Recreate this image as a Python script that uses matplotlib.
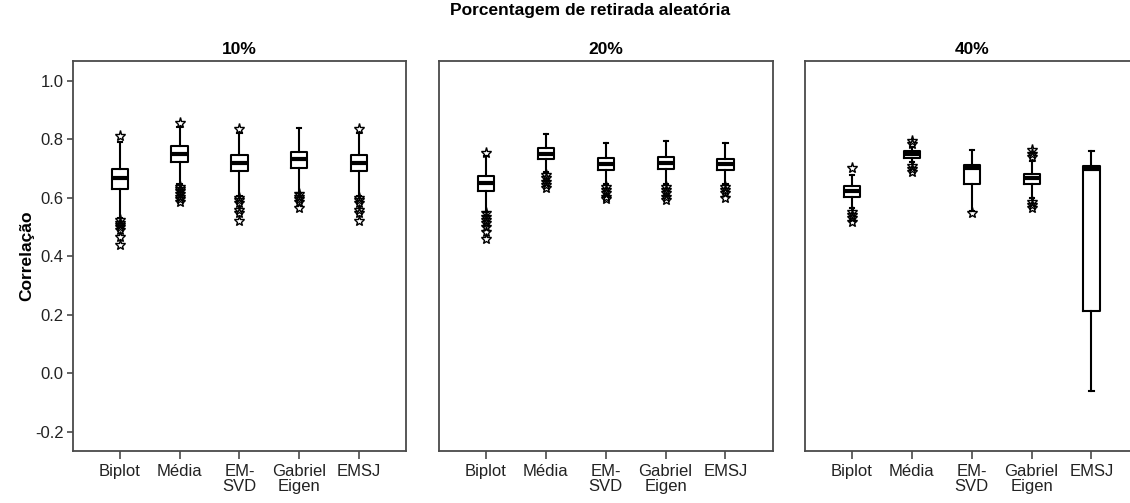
import matplotlib
matplotlib.use("Agg")
import matplotlib.pyplot as plt

plt.rcParams['font.family'] = ['Liberation Sans', 'DejaVu Sans']

categories = ["Biplot", "Média", "EM-\nSVD", "Gabriel\nEigen", "EMSJ"]
panel_titles = ["10%", "20%", "40%"]
suptitle = "Porcentagem de retirada aleatória"
ylabel = "Correlação"
yticks = [1.0, 0.8, 0.6, 0.4, 0.2, 0.0, -0.2]

# Panel 10%
med_10 = [0.668, 0.750, 0.720, 0.733, 0.720]
q1_10 = [0.630, 0.721, 0.690, 0.700, 0.690]
q3_10 = [0.698, 0.777, 0.746, 0.757, 0.746]
wlo_10 = [0.530, 0.645, 0.605, 0.615, 0.605]
whi_10 = [0.790, 0.840, 0.822, 0.838, 0.822]
fl_10 = [
    [0.812, 0.523, 0.515, 0.507, 0.499, 0.488, 0.467, 0.438],
    [0.854, 0.638, 0.629, 0.621, 0.613, 0.603, 0.594, 0.586],
    [0.834, 0.598, 0.592, 0.583, 0.558, 0.547, 0.520],
    [0.612, 0.603, 0.596, 0.586, 0.564],
    [0.834, 0.598, 0.592, 0.583, 0.558, 0.547, 0.520],
]

# Panel 20%
med_20 = [0.651, 0.750, 0.716, 0.719, 0.715]
q1_20 = [0.624, 0.731, 0.695, 0.697, 0.695]
q3_20 = [0.674, 0.769, 0.736, 0.740, 0.733]
wlo_20 = [0.552, 0.689, 0.647, 0.647, 0.647]
whi_20 = [0.744, 0.818, 0.786, 0.795, 0.786]
fl_20 = [
    [0.752, 0.547, 0.535, 0.524, 0.512, 0.501, 0.484, 0.458],
    [0.678, 0.666, 0.655, 0.643, 0.632],
    [0.638, 0.626, 0.615, 0.603, 0.595],
    [0.638, 0.626, 0.615, 0.603, 0.592],
    [0.638, 0.626, 0.615, 0.598],
]

# Panel 40%
med_40 = [0.623, 0.748, 0.700, 0.666, 0.698]
q1_40 = [0.603, 0.737, 0.647, 0.647, 0.214]
q3_40 = [0.640, 0.761, 0.712, 0.681, 0.708]
wlo_40 = [0.564, 0.723, 0.555, 0.598, -0.061]
whi_40 = [0.678, 0.772, 0.763, 0.725, 0.760]
fl_40 = [
    [0.700, 0.552, 0.541, 0.530, 0.518],
    [0.795, 0.784, 0.708, 0.697, 0.686],
    [0.547],
    [0.763, 0.749, 0.738, 0.586, 0.575, 0.564],
    [],
]

panels = [
    (med_10, q1_10, q3_10, wlo_10, whi_10, fl_10),
    (med_20, q1_20, q3_20, wlo_20, whi_20, fl_20),
    (med_40, q1_40, q3_40, wlo_40, whi_40, fl_40),
]

W, H = 1130, 503
fig = plt.figure(figsize=(W / 100, H / 100), dpi=100)

lefts = [72.7, 439, 805]
ax_w = 333.5
ax_top, ax_bot = 61, 451
frame_col = '#4a4a4a'

for i, (med, q1, q3, wlo, whi, fl) in enumerate(panels):
    ax = fig.add_axes([lefts[i] / W, 1 - ax_bot / H, ax_w / W, (ax_bot - ax_top) / H])
    stats = []
    for j in range(len(categories)):
        stats.append(dict(med=med[j], q1=q1[j], q3=q3[j], whislo=wlo[j], whishi=whi[j], fliers=fl[j]))
    positions = list(range(1, len(categories) + 1))
    ax.bxp(stats, positions=positions, widths=0.27, showfliers=True,
           boxprops=dict(color='black', linewidth=1.5),
           medianprops=dict(color='black', linewidth=3.0, solid_capstyle='butt'),
           whiskerprops=dict(color='black', linewidth=1.5),
           capprops=dict(color='black', linewidth=1.5),
           capwidths=0.07,
           flierprops=dict(marker='*', markersize=8, markerfacecolor='none',
                           markeredgecolor='black', markeredgewidth=1.0, linestyle='none'))
    ax.set_xlim(0.215, 5.785)
    ax.set_ylim(-0.266, 1.067)
    ax.set_xticks(positions)
    ax.set_xticklabels(categories, fontsize=12, color='#222222', linespacing=0.95)
    ax.tick_params(axis='x', length=5.5, width=1.2, color=frame_col, pad=4)
    if i == 0:
        ax.set_yticks(yticks)
        ax.set_yticklabels([f"{v:.1f}" for v in yticks], fontsize=12, color='#222222')
        ax.tick_params(axis='y', length=4.5, width=1.2, color=frame_col, pad=2)
    else:
        ax.set_yticks([])
    for sp in ax.spines.values():
        sp.set_color(frame_col)
        sp.set_linewidth(1.3)
    ax.set_title(panel_titles[i], fontsize=12.5, fontweight='bold', pad=5)

fig.text(590 / W, 1 - 11 / H, suptitle, ha='center', va='center', fontsize=12.5, fontweight='bold')
fig.text(27 / W, 1 - 256 / H, ylabel, ha='center', va='center', rotation=90, fontsize=12.5, fontweight='bold')

fig.savefig("out.png", dpi=100)
